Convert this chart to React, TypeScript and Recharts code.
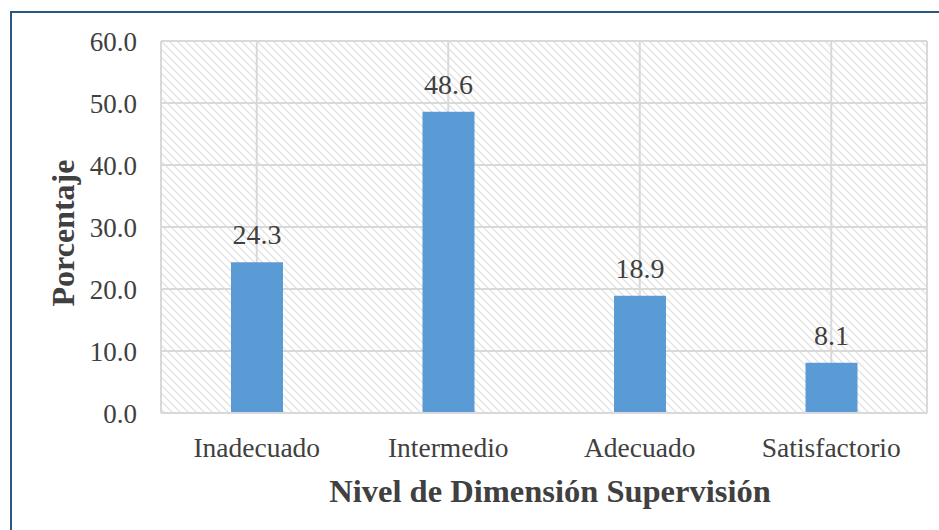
import React from "react";
import {
  Bar,
  BarChart,
  CartesianGrid,
  LabelList,
  XAxis,
  YAxis,
} from "recharts";

const levels = ["Inadecuado", "Intermedio", "Adecuado", "Satisfactorio"];
const percentages = [24.3, 48.6, 18.9, 8.1];
const yTicks = [0, 10, 20, 30, 40, 50, 60];

const data = levels.map((name, i) => ({ name, value: percentages[i] }));

const FONT = "'Liberation Serif', 'Times New Roman', serif";
const INK = "#404040";

const YTitle = ({ viewBox }: any) => {
  const cy = viewBox.y + viewBox.height / 2 + 6;
  return (
    <text
      x={63}
      y={cy}
      transform={`rotate(-90, 63, ${cy})`}
      textAnchor="middle"
      dominantBaseline="central"
      fontFamily={FONT}
      fontWeight="bold"
      fontSize={32}
      fill={INK}
    >
      Porcentaje
    </text>
  );
};

const XTitle = ({ viewBox }: any) => (
  <text
    x={viewBox.x + viewBox.width / 2 + 6}
    y={502}
    textAnchor="middle"
    fontFamily={FONT}
    fontWeight="bold"
    fontSize={32.5}
    fill={INK}
  >
    Nivel de Dimensión Supervisión
  </text>
);

const App = () => {
  return (
    <div style={{ position: "absolute", left: 0, top: 0, width: 939, height: 530, background: "#fff" }}>
      <div
        style={{
          position: "absolute",
          left: 10,
          top: 11,
          width: 940,
          height: 530,
          borderTop: "2px solid #2b5683",
          borderLeft: "2px solid #2b5683",
        }}
      />
      <BarChart
        width={939}
        height={530}
        data={data}
        margin={{ top: 41, right: 12, bottom: 17, left: 0 }}
        style={{ position: "absolute", left: 0, top: 0 }}
      >
        <defs>
          <pattern id="hatch" width={8} height={8} patternUnits="userSpaceOnUse">
            <path d="M-2,-2 L10,10 M-2,6 L2,10 M6,-2 L10,2" stroke="#e2e2e2" strokeWidth={1.3} />
          </pattern>
        </defs>
        <CartesianGrid
          stroke="#d9d9d9"
          strokeWidth={2}
          fill="url(#hatch)"
          vertical
          horizontal
        />
        <XAxis
          dataKey="name"
          height={100}
          axisLine={{ stroke: "#d9d9d9", strokeWidth: 2 }}
          tickLine={false}
          tickSize={0}
          tickMargin={24}
          tick={{ fontFamily: FONT, fontSize: 27.5, fill: INK }}
          label={<XTitle />}
        />
        <YAxis
          width={161}
          domain={[0, 60]}
          ticks={yTicks}
          interval={0}
          axisLine={false}
          tickLine={false}
          tickSize={0}
          tickMargin={24}
          tickFormatter={(v: number) => v.toFixed(1)}
          tick={{ fontFamily: FONT, fontSize: 27, fill: INK }}
          label={<YTitle />}
        />
        <Bar dataKey="value" fill="#5b9bd5" barSize={52} isAnimationActive={false}>
          <LabelList
            dataKey="value"
            position="top"
            offset={18}
            formatter={(v: any) => Number(v).toFixed(1)}
            style={{ fontFamily: FONT, fontSize: 28, fill: INK }}
          />
        </Bar>
      </BarChart>
    </div>
  );
};

export default App;
